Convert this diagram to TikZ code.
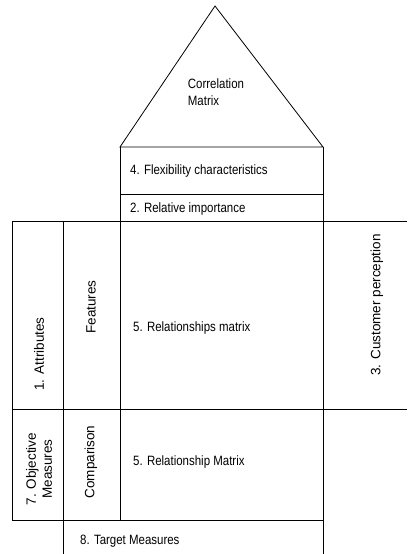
\documentclass[tikz,border=0pt]{standalone}
\usepackage{fontspec}
\setmainfont{Liberation Sans}[FakeStretch=0.85]
\newfontfamily\vfont{Liberation Sans}
\usepackage{tikz}

\tikzset{
  qfd/.style={line width=0.8pt, black},
  lbl/.style={font=\fontsize{13.5}{17}\selectfont, inner sep=0pt},
  vlbl/.style={font=\vfont\fontsize{13.5}{16}\selectfont, inner sep=0pt, rotate=90}
}

\begin{document}
\begin{tikzpicture}[x=1pt, y=-1pt]
    \useasboundingbox (0,0) rectangle (407,554);

    % roof
    \draw[qfd] (120,147) -- (215,6) -- (323,147) -- cycle;
    \node[lbl, align=left] (corr) at (216,92) {Correlation\\Matrix};

    % upper boxes
    \draw[qfd] (120,147) -- (120,520);
    \draw[qfd] (323,147) -- (323,554);
    \draw[qfd] (120,194) -- (323,194);
    \node[lbl, anchor=west] (flex) at (130,171) {4. Flexibility characteristics};
    \node[lbl, anchor=west] (relimp) at (130,209) {2. Relative importance};

    % main grid
    \draw[qfd] (12,221) -- (407,221);
    \draw[qfd] (12,409) -- (407,409);
    \draw[qfd] (12,520) -- (323,520);
    \draw[qfd] (12,221) -- (12,520);
    \draw[qfd] (63,221) -- (63,554);

    \node[vlbl] (attr) at (39,354) {1. Attributes};
    \node[vlbl] (feat) at (91,307) {Features};
    \node[lbl, anchor=west] (relmat) at (133,328) {5. Relationships matrix};
    \node[vlbl] (cust) at (377,305) {3. Customer perception};

    \node[vlbl, align=center] (obj) at (39,469) {7. Objective\\Measures};
    \node[vlbl] (comp) at (91,462) {Comparison};
    \node[lbl, anchor=west] (relmat2) at (133,462) {5. Relationship Matrix};

    \node[lbl, anchor=west] (target) at (80,541) {8. Target Measures};
\end{tikzpicture}
\end{document}
